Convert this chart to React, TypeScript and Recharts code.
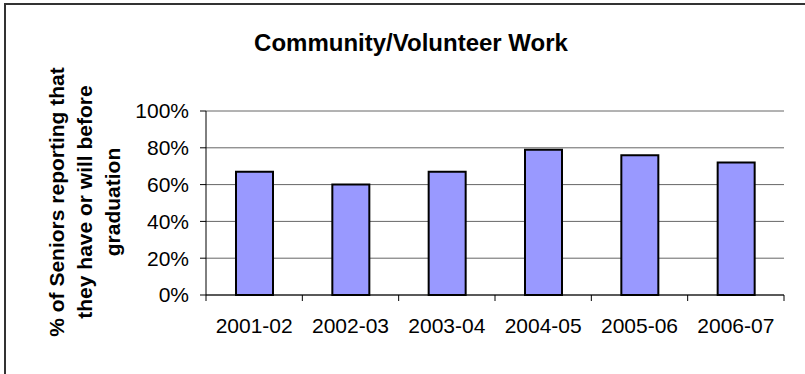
import React from 'react';
import { BarChart, Bar, XAxis, YAxis, CartesianGrid } from 'recharts';

const years = ['2001-02', '2002-03', '2003-04', '2004-05', '2005-06', '2006-07'];
const shares = [0.67, 0.6, 0.67, 0.79, 0.76, 0.72];
const yTicks = [0, 0.2, 0.4, 0.6, 0.8, 1];
const yLabelLines = ['% of Seniors reporting that', 'they have or will before', 'graduation'];

const data = years.map((year, i) => ({ year, share: shares[i] }));

const FONT = '"Liberation Sans", Arial, Helvetica, sans-serif';

// three bold lines, rotated, centred on the plot height
function YLabel(props: any) {
  const vb = props.viewBox || { x: 0, y: 0, width: 0, height: 0 };
  const cy = vb.y + vb.height / 2 - 1;
  return (
    <g>
      {yLabelLines.map((line, i) => {
        const bx = vb.x + 63.5 + i * 28;
        return (
          <text
            key={line}
            x={bx}
            y={cy}
            transform={`rotate(-90, ${bx}, ${cy})`}
            textAnchor="middle"
            fontSize={21}
            fontWeight="bold"
            fontFamily={FONT}
            fill="#000"
          >
            {line}
          </text>
        );
      })}
    </g>
  );
}

// label in the middle of the category, tick marks on the category edges
function YearTick(props: any) {
  const { x, y, payload, index, width, visibleTicksCount } = props;
  const band = width / visibleTicksCount;
  const isLast = index === visibleTicksCount - 1;
  return (
    <g>
      <line x1={x - band / 2} x2={x - band / 2} y1={y} y2={y + 6} stroke="#000" />
      {isLast && <line x1={x + band / 2} x2={x + band / 2} y1={y} y2={y + 6} stroke="#000" />}
      <text x={x} y={y + 23} dy="0.71em" textAnchor="middle" fontSize={21} fill="#000" fontFamily={FONT}>
        {payload.value}
      </text>
    </g>
  );
}

export default function App() {
  return (
    <div
      style={{
        position: 'fixed',
        left: 0,
        top: 0,
        width: 805,
        height: 374,
        overflow: 'hidden',
        background: '#fff',
        fontFamily: FONT,
      }}
    >
      <div
        style={{
          position: 'absolute',
          left: 4,
          top: 3,
          width: 1000,
          height: 1000,
          borderTop: '2px solid #333',
          borderLeft: '2px solid #333',
        }}
      />
      <div
        style={{
          position: 'absolute',
          left: 411,
          top: 31,
          transform: 'translateX(-50%)',
          whiteSpace: 'nowrap',
          fontSize: 24,
          lineHeight: '24px',
          fontWeight: 'bold',
          color: '#000',
        }}
      >
        Community/Volunteer Work
      </div>
      <div style={{ position: 'absolute', left: 0, top: 0 }}>
        <BarChart
          width={805}
          height={374}
          data={data}
          margin={{ top: 111, right: 21, bottom: 33, left: 0 }}
          barSize={37}
        >
          <CartesianGrid vertical={false} stroke="#666" strokeWidth={1} />
          <XAxis
            dataKey="year"
            height={46}
            axisLine={{ stroke: '#000' }}
            tickLine={false}
            tickSize={0}
            tickMargin={0}
            interval={0}
            tick={<YearTick />}
          />
          <YAxis
            width={206}
            domain={[0, 1]}
            ticks={yTicks}
            tickFormatter={(v: number) => `${Math.round(v * 100)}%`}
            tickSize={6}
            tickMargin={11}
            axisLine={{ stroke: '#000' }}
            tickLine={{ stroke: '#000' }}
            tick={{ fontSize: 21, fill: '#000', fontFamily: FONT }}
            label={<YLabel />}
          />
          <YAxis
            yAxisId="r"
            orientation="right"
            width={0}
            domain={[0, 1]}
            tick={false}
            tickLine={false}
            axisLine={{ stroke: '#888', strokeWidth: 2 }}
          />
          <Bar dataKey="share" fill="#9999FF" stroke="#000" strokeWidth={2} isAnimationActive={false} />
        </BarChart>
      </div>
    </div>
  );
}
